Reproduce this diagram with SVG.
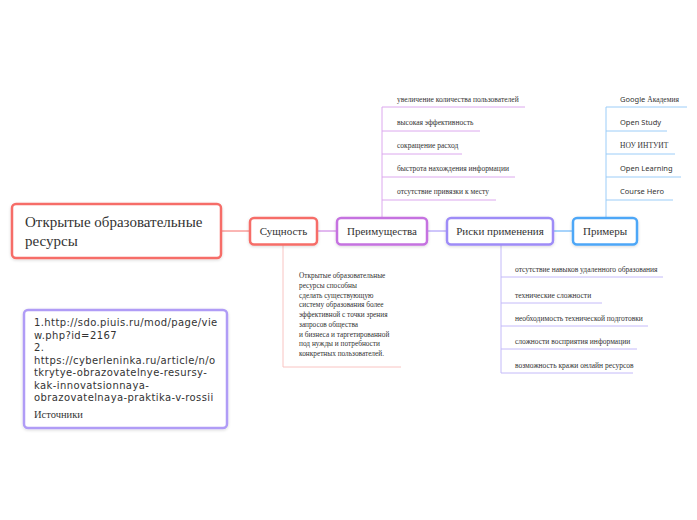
<svg xmlns="http://www.w3.org/2000/svg" width="697" height="520" viewBox="0 0 697 520">
<defs>
<filter id="sh" x="-20%" y="-30%" width="140%" height="160%"><feDropShadow dx="0" dy="1" stdDeviation="1.5" flood-color="#000" flood-opacity="0.15"/></filter>
<style>
.node{fill:#fff;stroke-width:2.5;filter:url(#sh)}
.serif{font-family:"Liberation Serif","DejaVu Serif",serif;fill:#333}
.sans{font-family:"Noto Sans","DejaVu Sans",sans-serif;fill:#333}
.src{font-family:"DejaVu Sans","Noto Sans",sans-serif;fill:#333;font-size:10px;letter-spacing:0.4px}
.lbl{font-size:11px;text-anchor:middle}
.sub{font-size:7.5px}
.subs{font-size:7.3px}
.ln{fill:none;stroke-width:1}
</style>
</defs>
<rect width="697" height="520" fill="#fff"/>
<g id="connectors">
<line class="ln" x1="221" y1="231" x2="250" y2="231" stroke="#f66d68"/>
<line class="ln" x1="317" y1="231" x2="337" y2="231" stroke="#c572e0"/>
<line class="ln" x1="427" y1="231" x2="447" y2="231" stroke="#9e8cf7"/>
<line class="ln" x1="553" y1="231" x2="573" y2="231" stroke="#4ea7f7"/>
<path class="ln" stroke="#f9c4c2" d="M283 245 V367 H401"/>
<g stroke="#dca8ee" class="ln">
<path d="M382 218 V107"/>
<path d="M382 107 H525 M382 131 H480 M382 154 H462 M382 177 H515 M382 200 H496"/>
</g>
<g stroke="#c4baf9" class="ln">
<path d="M501 244 V373"/>
<path d="M501 277 H663 M501 303 H602 M501 326 H648 M501 349 H637 M501 373 H633"/>
</g>
<g stroke="#9ccdf8" class="ln">
<path d="M606 218 V107"/>
<path d="M606 107 H687 M606 131 H667 M606 154 H675 M606 177 H681 M606 200 H673"/>
</g>
</g>
<g id="main">
<rect class="node" x="12" y="204" width="209" height="54" rx="4" stroke="#f66d68" stroke-width="3"/>
<text class="serif" x="25" y="227" font-size="15">Открытые образовательные</text>
<text class="serif" x="25" y="246" font-size="15">ресурсы</text>
</g>
<g id="sushnost">
<rect class="node" x="250" y="218" width="67" height="26.5" rx="4" stroke="#f66d68"/>
<text class="serif lbl" x="283.5" y="235">Сущность</text>
</g>
<g id="preimushchestva">
<rect class="node" x="337" y="218" width="90" height="26.5" rx="4" stroke="#c572e0"/>
<text class="serif lbl" x="382" y="235">Преимущества</text>
</g>
<g id="riski">
<rect class="node" x="447" y="218" width="106" height="26.5" rx="4" stroke="#9e8cf7"/>
<text class="serif lbl" x="500" y="235">Риски применения</text>
</g>
<g id="primery">
<rect class="node" x="573" y="218" width="64" height="26.5" rx="4" stroke="#4ea7f7"/>
<text class="serif lbl" x="605" y="235">Примеры</text>
</g>
<g id="sushnost-text">
<text class="serif subs" x="299" y="278">
<tspan x="299" y="278">Открытые образовательные</tspan>
<tspan x="299" y="287.8">ресурсы способны</tspan>
<tspan x="299" y="297.5">сделать существующую</tspan>
<tspan x="299" y="307.3">систему образования более</tspan>
<tspan x="299" y="317">эффективной с точки зрения</tspan>
<tspan x="299" y="326.8">запросов общества</tspan>
<tspan x="299" y="336.5">и бизнеса и таргетированной</tspan>
<tspan x="299" y="346.3">под нужды и потребности</tspan>
<tspan x="299" y="356">конкретных пользователей.</tspan>
</text>
</g>
<g id="pre-items" class="serif sub">
<text x="397" y="102">увеличение количества пользователей</text>
<text x="397" y="125">высокая эффективность</text>
<text x="397" y="148">сокращение расход</text>
<text x="397" y="171">быстрота нахождения информации</text>
<text x="397" y="194">отсутствие привязки к месту</text>
</g>
<g id="risk-items" class="serif sub">
<text x="515" y="272">отсутствие навыков удаленного образования</text>
<text x="515" y="298">технические сложности</text>
<text x="515" y="321">необходимость технической подготовки</text>
<text x="515" y="344">сложности восприятия информации</text>
<text x="515" y="368">возможность кражи онлайн ресурсов</text>
</g>
<g id="examples" font-size="7.5">
<text x="620" y="102"><tspan class="sans">Google </tspan><tspan class="serif">Академия</tspan></text>
<text class="sans" x="620" y="125">Open Study</text>
<text class="serif" x="620" y="148">НОУ ИНТУИТ</text>
<text class="sans" x="620" y="171">Open Learning</text>
<text class="sans" x="620" y="194">Course Hero</text>
</g>
<g id="sources">
<rect class="node" x="24" y="310" width="203" height="118" rx="4" stroke="#b09cf6" stroke-width="2"/>
<text class="src">
<tspan x="34" y="326">1.http://sdo.piuis.ru/mod/page/vie</tspan>
<tspan x="34" y="338.5">w.php?id=2167</tspan>
<tspan x="34" y="351">2.</tspan>
<tspan x="34" y="363.5">https://cyberleninka.ru/article/n/o</tspan>
<tspan x="34" y="376">tkrytye-obrazovatelnye-resursy-</tspan>
<tspan x="34" y="388.5">kak-innovatsionnaya-</tspan>
<tspan x="34" y="401">obrazovatelnaya-praktika-v-rossii</tspan>
</text>
<text class="serif" x="34" y="418" font-size="10.5" fill="#555">Источники</text>
</g>
</svg>
